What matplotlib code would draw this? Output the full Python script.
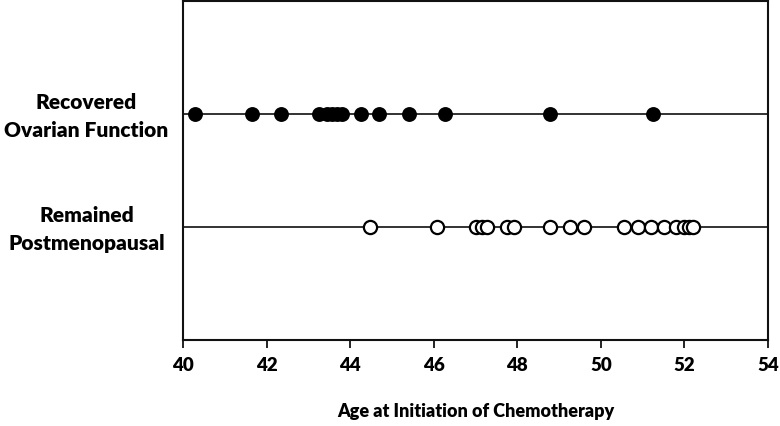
import matplotlib
matplotlib.use("Agg")
import matplotlib.pyplot as plt

recovered = [40.28, 41.65, 42.35, 43.26, 43.45, 43.57, 43.69, 43.81, 44.27,
             44.7, 45.42, 46.28, 48.78, 51.24]
remained = [44.47, 46.08, 47.02, 47.16, 47.27, 47.76, 47.92, 48.78, 49.27,
            49.59, 50.56, 50.88, 51.2, 51.5, 51.8, 52.0, 52.1, 52.2]
row_labels = ["Recovered\nOvarian Function", "Remained\nPostmenopausal"]
row_pos = [2, 1]
xticks = [40, 42, 44, 46, 48, 50, 52, 54]
xlabel = "Age at Initiation of Chemotherapy"

plt.rcParams['font.family'] = ['Lato', 'DejaVu Sans']

fig = plt.figure(figsize=(7.8, 4.26), dpi=100)
ax = fig.add_axes([0.2346, 0.2019, 0.7500, 0.7946])

for y in row_pos:
    ax.axhline(y, color='#222222', lw=1.3, zorder=1)

ax.plot(recovered, [row_pos[0]] * len(recovered), 'o', ms=9.5,
        mfc='black', mec='black', mew=1.2, zorder=3, clip_on=False)
ax.plot(remained, [row_pos[1]] * len(remained), 'o', ms=9.5,
        mfc='white', mec='black', mew=1.6, zorder=3, clip_on=False)

ax.set_xlim(40, 54)
ax.set_ylim(0, 3)
ax.set_xticks(xticks)
ax.set_xticklabels([str(t) for t in xticks], fontsize=13.5, fontweight='heavy')
ax.set_yticks([])
for lab, y in zip(row_labels, row_pos):
    ax.text(-0.165, y - 0.02, lab, transform=ax.get_yaxis_transform(),
            ha='center', va='center', fontsize=15, fontweight='heavy',
            linespacing=1.6)
ax.tick_params(axis='x', direction='out', length=6, width=1.2, pad=6)
for s in ax.spines.values():
    s.set_linewidth(1.5)
    s.set_color('#111111')
ax.set_xlabel(xlabel, fontsize=13, fontweight='heavy', labelpad=21)

fig.savefig("out.png", dpi=100)
